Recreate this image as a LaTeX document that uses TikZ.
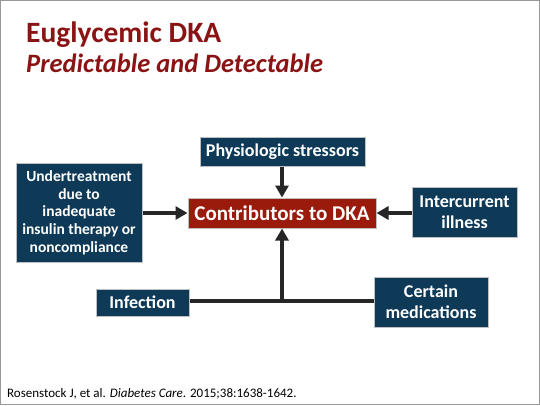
\documentclass[tikz,border=0pt]{standalone}
\usepackage{fontspec}
\setmainfont{Carlito}
\usetikzlibrary{arrows.meta}
\definecolor{navy}{HTML}{0E3A58}
\definecolor{boxred}{HTML}{9A1A0C}
\definecolor{titlered}{HTML}{8A1414}
\definecolor{edgegray}{HTML}{BFBFBF}
\definecolor{linedark}{HTML}{262626}
\tikzset{
  x=1pt,y=-1pt,
  bluebox/.style={draw=edgegray,line width=1pt,fill=navy,text=white,font=\bfseries\fontsize{18}{21}\selectfont,align=center,inner sep=0pt},
  smallbox/.style={bluebox,font=\bfseries\fontsize{15.5}{17.7}\selectfont},
  redbox/.style={draw=edgegray,line width=1pt,fill=boxred,text=white,font=\bfseries\fontsize{21}{24}\selectfont,align=center,inner sep=0pt},
  conn/.style={draw=linedark,line width=3.2pt},
  arr/.style={conn,-{Triangle[length=12pt,width=13pt]}}
}
\begin{document}
\begin{tikzpicture}
\useasboundingbox (0,0) rectangle (540,405);
\draw[draw=gray!80,line width=1pt] (0.5,0.5) rectangle (539.5,404.5);
\node[anchor=base west,text=titlered,font=\bfseries\fontsize{29.5}{34}\selectfont,inner sep=0pt] (title) at (26,42) {Euglycemic DKA};
\node[anchor=base west,text=titlered,font=\bfseries\itshape\fontsize{26.5}{30}\selectfont,inner sep=0pt] (subtitle) at (26,72) {Predictable and Detectable};
\node[redbox,minimum width=188pt,minimum height=30pt] (dka) at (282,213) {Contributors to DKA};
\node[bluebox,minimum width=165pt,minimum height=29pt] (phys) at (282.5,151.5) {Physiologic stressors};
\node[smallbox,minimum width=126pt,minimum height=99pt] (under) at (79,212.5) {Undertreatment\\due to\\inadequate\\insulin therapy or\\noncompliance};
\node[bluebox,minimum width=105pt,minimum height=50pt] (inter) at (464.5,212) {Intercurrent\\illness};
\node[bluebox,minimum width=93pt,minimum height=27pt] (inf) at (142.5,302.5) {Infection};
\node[bluebox,minimum width=114pt,minimum height=50pt] (med) at (431,302) {Certain\\medications};
\coordinate (junc) at (282,301);
\draw[arr] (phys.south -| dka.north) -- (dka.north);
\draw[arr] (under.east |- dka.west) -- (dka.west);
\draw[arr] (inter.west |- dka.east) -- (dka.east);
\draw[conn] (inf.east |- junc) -- (med.west |- junc);
\draw[arr] (junc) -- (dka.south);
\node[anchor=base west,font=\fontsize{13}{15}\selectfont,inner sep=0pt] (cite) at (7,397) {Rosenstock J, et al. \textit{Diabetes Care}. 2015;38:1638-1642.};
\end{tikzpicture}
\end{document}
